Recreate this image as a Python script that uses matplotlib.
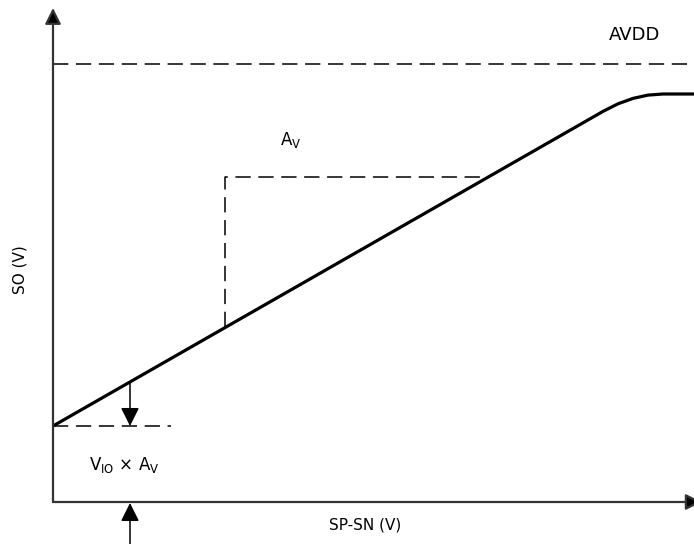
"""Amplifier transfer curve: SO vs SP-SN."""
import matplotlib
matplotlib.use('Agg')
import matplotlib.pyplot as plt

# Transfer curve (x: SP-SN, y: SO), arbitrary units
curve_x = [0.0, 5.50, 5.65, 5.80, 5.95, 6.10, 6.45]
curve_y = [0.76, 3.906, 3.982, 4.036, 4.069, 4.08, 4.08]

avdd_level = 4.38
offset_level = 0.76       # V_IO x A_V output at zero input
offset_dash_end = 1.18
gain_step_x = [1.72, 1.72, 4.35]
gain_step_y = [1.75, 3.25, 3.25]
offset_arrow_x = 0.77
offset_arrow_top = 1.20

fig = plt.figure(figsize=(6.94, 5.44), dpi=100)
ax = fig.add_axes([53 / 694, 42 / 544, 641 / 694, 494 / 544])
ax.set_xlim(0, 6.41)
ax.set_ylim(0, 4.94)
ax.axis('off')

dash = (0, (10, 5))

# axes with arrow heads
arrow_kw = dict(arrowstyle='-|>', color='#333333', lw=1.6,
                mutation_scale=24, shrinkA=0, shrinkB=0)
ax.annotate('', xy=(0, 1.0), xytext=(0, 0), xycoords='axes fraction',
            arrowprops=dict(arrow_kw, fc='black', ec='#333333'), annotation_clip=False)
ax.annotate('', xy=(1.012, 0), xytext=(0, 0), xycoords='axes fraction',
            arrowprops=dict(arrow_kw, fc='black', ec='#333333'), annotation_clip=False)

# AVDD rail
ax.plot([0, 6.41], [avdd_level, avdd_level], color='black', lw=1.1, linestyle=dash)
ax.text(5.82, avdd_level + 0.29, 'AVDD', fontsize=13, ha='center', va='center')

# transfer curve
ax.plot(curve_x, curve_y, color='black', lw=2.3, solid_capstyle='butt',
        solid_joinstyle='round', clip_on=False)

# gain construction
ax.plot(gain_step_x, gain_step_y, color='black', lw=1.1, linestyle=dash)
ax.text(2.38, 3.62, r'A$_\mathregular{V}$', fontsize=12, ha='center', va='center')

# offset
ax.plot([0, offset_dash_end], [offset_level, offset_level], color='black',
        lw=1.1, linestyle=dash)
ax.annotate('', xy=(offset_arrow_x, offset_level), xytext=(offset_arrow_x, offset_arrow_top),
            arrowprops=dict(arrowstyle='-|>', color='black', lw=1.1,
                            mutation_scale=28, shrinkA=0, shrinkB=0))
ax.text(0.36, 0.37, r'V$_\mathregular{IO}$ × A$_\mathregular{V}$', fontsize=12,
        ha='left', va='center')
ax.annotate('', xy=(offset_arrow_x, -0.01), xytext=(offset_arrow_x, -0.43),
            arrowprops=dict(arrowstyle='-|>', color='black', lw=1.1,
                            mutation_scale=28, shrinkA=0, shrinkB=0),
            annotation_clip=False)

# axis labels
ax.text(3.12, -0.23, 'SP-SN (V)', fontsize=11, ha='center', va='center')
ax.text(-0.33, 2.32, 'SO (V)', fontsize=11, ha='center', va='center', rotation=90)

plt.savefig('out.png', dpi=100)
